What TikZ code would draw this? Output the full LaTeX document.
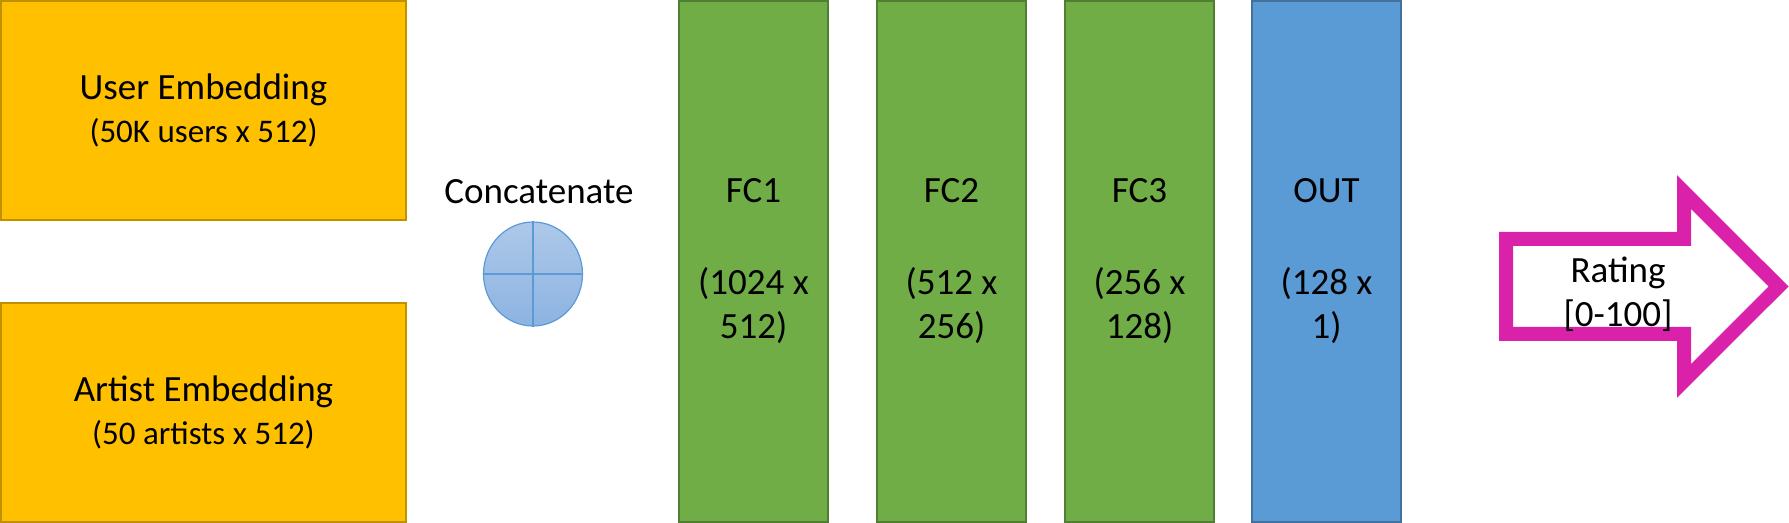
\documentclass[tikz,border=0pt]{standalone}
\usepackage{fontspec}
\setmainfont{Carlito}
\usetikzlibrary{shapes.geometric,positioning}

\definecolor{embfill}{HTML}{FFC000}
\definecolor{embdraw}{HTML}{BF9000}
\definecolor{fcfill}{HTML}{70AD47}
\definecolor{fcdraw}{HTML}{507E32}
\definecolor{outfill}{HTML}{5B9BD5}
\definecolor{outdraw}{HTML}{41719C}
\definecolor{cattop}{HTML}{ADC8E9}
\definecolor{catbot}{HTML}{8DB3E2}
\definecolor{catdraw}{HTML}{5B9BD5}
\definecolor{ratecol}{HTML}{D921A9}

\begin{document}
\begin{tikzpicture}[
  emb/.style={rectangle, draw=embdraw, fill=embfill, line width=1pt,
    minimum width=202.5pt, minimum height=109.5pt, align=center,
    font=\fontsize{18.5}{21.5}\selectfont},
  layer/.style={rectangle, draw=fcdraw, fill=fcfill, line width=1pt,
    minimum width=74.5pt, minimum height=260.5pt, align=center,
    font=\fontsize{18.5}{22}\selectfont},
  small/.style={font=\fontsize{16.5}{21.5}\selectfont},
  lbl/.style={inner sep=0pt, outer sep=0pt, font=\fontsize{18.5}{22}\selectfont}
  ]
  \useasboundingbox (0pt,0pt) rectangle (894.5pt,-261.5pt);

  \node[emb] (U) at (101.75pt,-55.25pt) {User Embedding\\{\fontsize{16.5}{21.5}\selectfont (50K users x 512)}};
  \node[emb, below=40.5pt of U] (A) {Artist Embedding\\{\fontsize{16.5}{21.5}\selectfont (50 artists x 512)}};

  \node[ellipse, draw=catdraw, line width=.6pt, top color=cattop, bottom color=catbot,
    inner sep=0pt, minimum width=49.5pt, minimum height=52pt] (C) at (266.5pt,-137pt) {};
  \draw[catdraw, line width=.6pt] (C.north) -- (C.south);
  \draw[catdraw, line width=.6pt] (C.west) -- (C.east);
  \node[lbl, above=9pt of C, xshift=3pt] (CL) {Concatenate};

  \node[layer] (FC1) at (376.75pt,-130.75pt) {FC1\\[24pt](1024 x\\512)};
  \node[layer, right=23.5pt of FC1] (FC2) {FC2\\[24pt](512 x\\256)};
  \node[layer, right=18.5pt of FC2] (FC3) {FC3\\[24pt](256 x\\128)};
  \node[layer, draw=outdraw, fill=outfill, right=18pt of FC3] (OUT) {OUT\\[24pt](128 x\\1)};

  % output arrow
  \draw[ratecol, line width=7pt, line join=miter]
    (753pt,-119.5pt) -- (842pt,-119.5pt) -- (842pt,-96pt) -- (889.3pt,-143.25pt)
    -- (842pt,-190.5pt) -- (842pt,-167pt) -- (753pt,-167pt) -- cycle;
  \node[lbl, align=center] (R) at (809pt,-147pt) {Rating\\{}[0-100]};

\end{tikzpicture}
\end{document}
